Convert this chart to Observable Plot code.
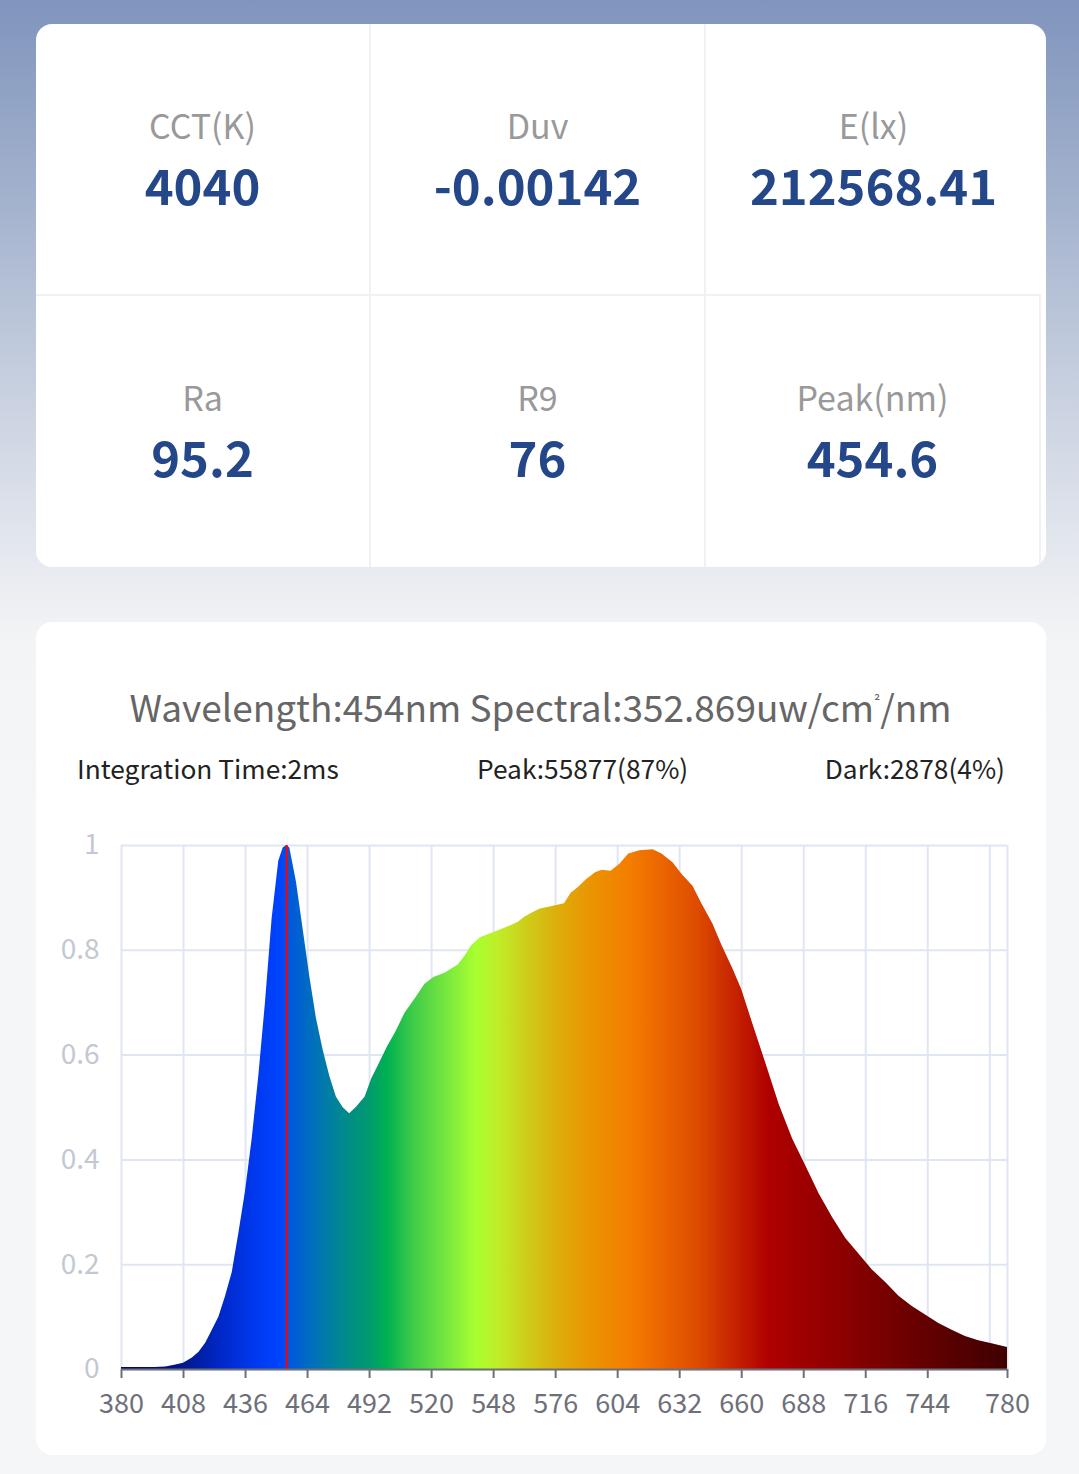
<!DOCTYPE html>
<html>
<head>
<meta charset="utf-8">
<script src="https://cdn.jsdelivr.net/npm/d3@7"></script>
<script src="https://cdn.jsdelivr.net/npm/@observablehq/plot@0.6"></script>
<style>
  html, body { margin: 0; padding: 0; }
  body {
    width: 1079px; height: 1474px; overflow: hidden; position: relative;
    font-family: "Noto Sans CJK SC", "Noto Sans", sans-serif;
    background: linear-gradient(180deg, #8095bd 0px, #a3b2cd 200px, #c6cfdf 380px, #e6e9ef 560px, #f3f4f6 640px, #f5f6f8 800px, #f5f6f8 1474px);
  }
  .card { position: absolute; left: 36px; width: 1010px; background: #fff; border-radius: 16px; overflow: hidden; }
  #metrics { top: 24px; height: 543px; }
  .cell { position: absolute; width: 335px; height: 272px; box-sizing: border-box; }
  .cell .lab { position: absolute; left: 0; right: 0; text-align: center; font-size: 34px; color: #999; line-height: 1; top: 84px; }
  .cell .val { position: absolute; left: 0; right: 0; text-align: center; font-size: 49px; font-weight: 700; color: #24478a; line-height: 1; top: 135px; }
  #chartcard { top: 622px; height: 833px; }
  .title { position: absolute; left: 0; width: 1081px; top: 684px; text-align: center; font-size: 37px; color: #666; line-height: 44px; white-space: nowrap; }
  .title .sup { font-size: 15px; position: relative; top: -15px; margin-left: 0px; }
  .info { position: absolute; top: 752px; font-size: 26.3px; color: #222; line-height: 32px; }
  #chart { position: absolute; left: 0; top: 800px; }
</style>
</head>
<body>
<div class="card" id="metrics"></div>
<div class="card" id="chartcard"></div>
<div class="title" id="title"></div>
<div class="info" id="info1" style="left:77px"></div>
<div class="info" id="info2" style="left:477px"></div>
<div class="info" id="info3" style="right:74px"></div>
<div id="chart"></div>
<script>
// ---- metric card data ----
const metricLabels = ["CCT(K)", "Duv", "E(lx)", "Ra", "R9", "Peak(nm)"];
const metricValues = ["4040", "-0.00142", "212568.41", "95.2", "76", "454.6"];

// ---- header texts ----
const titleParts = ["Wavelength:454nm Spectral:352.869uw/cm", "²", "/nm"];
const infoTexts = ["Integration Time:2ms", "Peak:55877(87%)", "Dark:2878(4%)"];

// ---- spectrum (relative intensity) ----
const wavelengths = [380,385,390,395,400,404,408,412,415,418,421,424,427,430,433,436,439,442,445,448,451,453,454.6,456,459,462,465,468,471,474,477,480,483,486,490,493,496,500,504,508,513,517,521,526,532,535,538,542,547,553,559,562,565,569,574,580,583,586,590,594,597,601,605,609,614,620,624,629,633,638,642,647,651,656,660,665,671,677,683,689,695,701,707,713,719,725,731,737,743,749,755,761,767,773,780];
const intensity = [0.004,0.004,0.004,0.004,0.005,0.008,0.012,0.022,0.033,0.05,0.075,0.10,0.14,0.185,0.26,0.34,0.44,0.56,0.70,0.86,0.97,0.995,1.0,0.995,0.93,0.84,0.75,0.67,0.61,0.56,0.52,0.50,0.488,0.50,0.52,0.555,0.58,0.615,0.645,0.68,0.71,0.735,0.748,0.756,0.772,0.788,0.808,0.824,0.832,0.842,0.853,0.863,0.87,0.879,0.883,0.889,0.909,0.919,0.935,0.948,0.953,0.951,0.964,0.984,0.99,0.992,0.984,0.967,0.945,0.922,0.889,0.85,0.81,0.765,0.725,0.66,0.583,0.505,0.44,0.388,0.335,0.29,0.25,0.22,0.19,0.166,0.14,0.12,0.104,0.088,0.075,0.063,0.055,0.049,0.042];
const peakWavelength = 454.6;

// ---- axes ----
const xGridTicks = [380,408,436,464,492,520,548,576,604,632,660,688,716,744,772,780];
const xLabelTicks = [380,408,436,464,492,520,548,576,604,632,660,688,716,744,780];
const yTicks = [0,0.2,0.4,0.6,0.8,1];

// ---- spectral colour stops ----
const colorNm = [380,400,410,425,440,452,456,465,475,485,492,500,512,525,540,550,565,580,595,610,625,640,655,672,690,710,730,750,780];
const colorHex = ["#000a5c","#000e78","#001a92","#0028c8","#0038ee","#0044ff","#0058dc","#006cc0","#0080a0","#00907f","#009a70","#00b050","#40cc48","#70e440","#a8ff30","#bfee28","#d0c818","#e0a808","#ec9000","#f47c00","#ea6400","#de4c00","#c82800","#b00000","#9c0000","#880000","#720000","#5c0000","#400000"];

// metrics grid
const mc = document.getElementById("metrics");
metricLabels.forEach((lab, i) => {
  const r = Math.floor(i / 3), c = i % 3;
  const cell = document.createElement("div");
  cell.className = "cell";
  cell.style.left = (c * 335) + "px";
  cell.style.top = (r * 272) + "px";
  if (c < 2 || r === 1) cell.style.borderRight = "2px solid #f0f1f5";
  if (r === 0) cell.style.borderBottom = "2px solid #f0f1f5";
  cell.innerHTML = `<div class="lab"></div><div class="val"></div>`;
  cell.querySelector(".lab").textContent = lab;
  cell.querySelector(".val").textContent = metricValues[i];
  mc.appendChild(cell);
});
const tEl = document.getElementById("title");
tEl.appendChild(document.createTextNode(titleParts[0]));
const sup = document.createElement("span"); sup.className = "sup"; sup.textContent = titleParts[1];
tEl.appendChild(sup);
tEl.appendChild(document.createTextNode(titleParts[2]));
infoTexts.forEach((t, i) => document.getElementById("info" + (i + 1)).textContent = t);

const data = wavelengths.map((w, i) => ({nm: w, v: intensity[i]}));

const plot = Plot.plot({
  width: 1079,
  height: 650,
  marginLeft: 121,
  marginRight: 72,
  marginTop: 45,
  marginBottom: 81,
  x: {domain: [380, 780]},
  y: {domain: [0, 1]},
  style: {fontFamily: "'Noto Sans CJK SC', sans-serif", background: "transparent", overflow: "visible"},
  marks: [
    Plot.gridX(xGridTicks, {stroke: "#e0e6f1", strokeOpacity: 1, strokeWidth: 2}),
    Plot.gridY(yTicks, {stroke: "#e0e6f1", strokeOpacity: 1, strokeWidth: 2}),
    Plot.areaY(data, {x: "nm", y: "v", fill: "url(#specGrad)", curve: "linear"}),
    Plot.ruleX([peakWavelength], {y1: 0, y2: 1, stroke: "#ff0000", strokeWidth: 2}),
    Plot.ruleY([0], {stroke: "#6e7079", strokeWidth: 2}),
    Plot.axisX(xLabelTicks, {tickSize: 9, tickPadding: 15, fontSize: 27, stroke: "#6e7079", strokeWidth: 2, fill: "#6e7079", strokeOpacity: 1, label: null, tickFormat: d => String(d)}),
    Plot.axisY(yTicks, {tickSize: 0, tickPadding: 22, fontSize: 28, fill: "#c4c8d2", label: null, tickFormat: d => String(d)})
  ]
});

// spectral gradient positioned with the x scale
const ns = "http://www.w3.org/2000/svg";
const xs = plot.scale("x");
const defs = document.createElementNS(ns, "defs");
const lg = document.createElementNS(ns, "linearGradient");
lg.setAttribute("id", "specGrad");
lg.setAttribute("gradientUnits", "userSpaceOnUse");
const x0 = xs.apply(380), x1 = xs.apply(780);
lg.setAttribute("x1", x0); lg.setAttribute("x2", x1);
lg.setAttribute("y1", 0); lg.setAttribute("y2", 0);
colorNm.forEach((nm, i) => {
  const s = document.createElementNS(ns, "stop");
  s.setAttribute("offset", ((xs.apply(nm) - x0) / (x1 - x0)).toFixed(4));
  s.setAttribute("stop-color", colorHex[i]);
  lg.appendChild(s);
});
defs.appendChild(lg);
plot.insertBefore(defs, plot.firstChild);
document.getElementById("chart").appendChild(plot);
</script>
</body>
</html>
